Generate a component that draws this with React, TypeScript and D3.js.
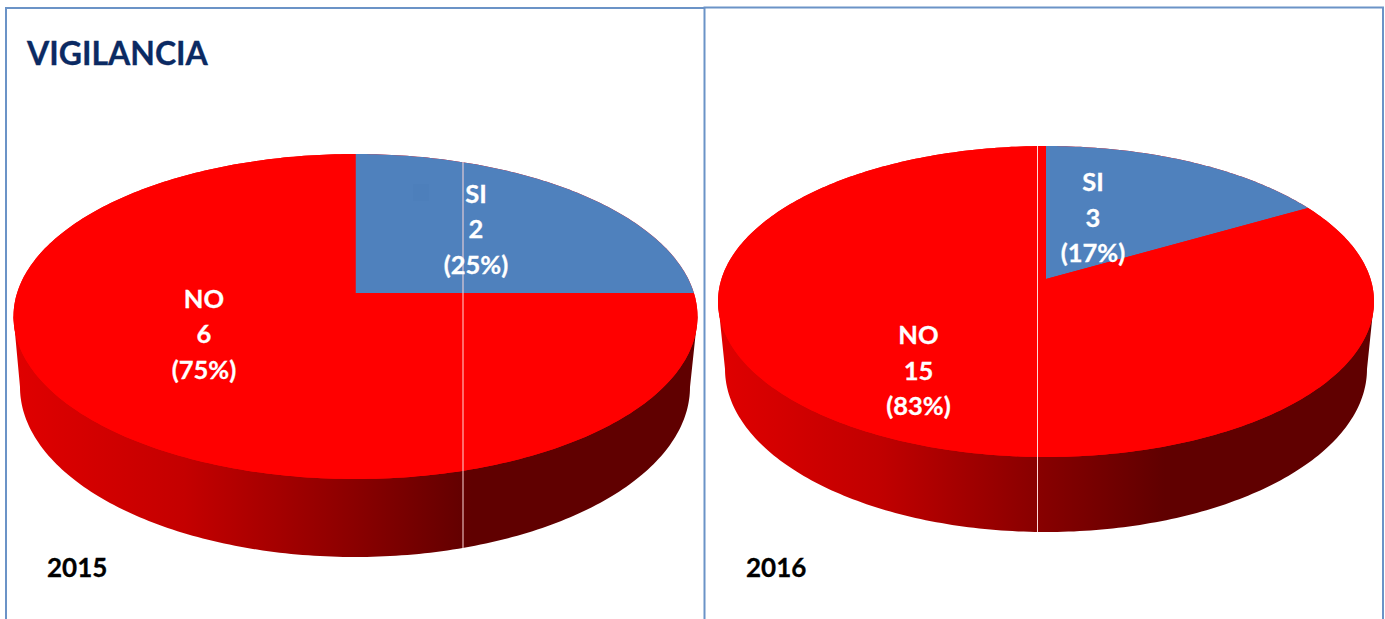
import React from "react";
import * as d3 from "d3";

const categories = ["SI", "NO"];
const years = ["2015", "2016"];
const values2015 = [2, 6];
const values2016 = [3, 15];
const percents2015 = ["(25%)", "(75%)"];
const percents2016 = ["(17%)", "(83%)"];
const colors = ["#4f81bd", "#ff0000"];
const FONT = "Lato, Carlito, 'Open Sans', sans-serif";
const FRAME = "#6b93c7";
const SLANT = 0.1446;

type Face = { cx: number; cy: number; rx: number; ry: number };

// Projective map of a unit disc onto a tilted ellipse, so slice angles follow the perspective.
function project(f: Face, angle: number): [number, number] {
  const u = Math.sin(angle);
  const v = Math.cos(angle);
  const k = 1 - SLANT * SLANT;
  const w = 1 + SLANT * v;
  const y0 = f.cy - f.ry * SLANT;
  return [f.cx + (f.rx * Math.sqrt(k) * u) / w, y0 - (f.ry * k * v) / w];
}

const lineGen = d3.line<[number, number]>().x((d) => d[0]).y((d) => d[1]);

function sliceThrough(f: Face, a0: number, a1: number, whole = false) {
  const n = Math.max(8, Math.ceil(((a1 - a0) / (2 * Math.PI)) * 360));
  const rim = d3.range(n + 1).map((i) => project(f, a0 + ((a1 - a0) * i) / n));
  const apex: [number, number] = [f.cx, f.cy - f.ry * SLANT];
  return lineGen(whole ? rim : [apex, ...rim]) + "Z";
}

function sidePath(top: Face, bottom: Face) {
  const n = 180;
  const arc = d3.range(n + 1).map((i): [number, number] => {
    const t = Math.PI - (Math.PI * i) / n;
    return [bottom.cx + bottom.rx * Math.cos(t), bottom.cy + bottom.ry * Math.sin(t)];
  });
  return lineGen([[top.cx - top.rx, top.cy], ...arc, [top.cx + top.rx, top.cy]]) + "Z";
}

function Pie3D(props: {
  id: string;
  values: number[];
  percents: string[];
  top: Face;
  bottom: Face;
  gradStops: [number, string][];
  seamX: number;
  seamTop: number;
  seamBottom: number;
  labelPos: [number, number][];
  lineGaps: number[];
}) {
  const { id, values, percents, top, bottom, gradStops, seamX, seamTop, seamBottom, labelPos, lineGaps } = props;
  const arcs = d3.pie<number>().sort(null)(values);
  const x = d3.scaleLinear().domain([top.cx - top.rx, top.cx + top.rx]).range([0, 1]);
  return (
    <g>
      <defs>
        <linearGradient id={id} gradientUnits="userSpaceOnUse" x1={x.invert(0)} x2={x.invert(1)} y1="0" y2="0">
          {gradStops.map(([o, c]) => (
            <stop key={o} offset={o} stopColor={c} />
          ))}
        </linearGradient>
      </defs>
      <path d={sidePath(top, bottom)} fill={`url(#${id})`} />
      <path d={sliceThrough(top, 0, 2 * Math.PI, true)} fill={colors[1]} />
      {arcs.map((a, i) => (
        <path key={i} d={sliceThrough(top, a.startAngle, a.endAngle)} fill={colors[i]} />
      ))}
      <line x1={seamX} x2={seamX} y1={seamTop} y2={seamBottom} stroke="#ffd8d8" strokeWidth={1} />
      {arcs.map((_, i) => (
        <text key={i} fontFamily={FONT} fontWeight={700} fontSize={25.5} fill="#fff" stroke="#fff" strokeWidth={0.3} textAnchor="middle">
          <tspan x={labelPos[i][0]} y={labelPos[i][1]}>{categories[i]}</tspan>
          <tspan x={labelPos[i][0]} y={labelPos[i][1] + lineGaps[0]}>{values[i]}</tspan>
          <tspan x={labelPos[i][0]} y={labelPos[i][1] + lineGaps[1]}>{percents[i]}</tspan>
        </text>
      ))}
    </g>
  );
}

export default function App() {
  return (
    <svg
      width={1385}
      height={619}
      viewBox="0 0 1385 619"
      style={{ position: "fixed", left: 0, top: 0, background: "#fff", display: "block" }}
    >
      <Pie3D
        id="side2015"
        values={values2015}
        percents={percents2015}
        top={{ cx: 355.5, cy: 316.5, rx: 342, ry: 162.5 }}
        bottom={{ cx: 355, cy: 387, rx: 335, ry: 170 }}
        gradStops={[[0, "#e00000"], [0.25, "#c40000"], [0.5, "#8a0000"], [0.67, "#600000"], [1, "#600000"]]}
        seamX={463}
        seamTop={162}
        seamBottom={548}
        labelPos={[[476, 203], [204, 308]]}
        lineGaps={[35, 71]}
      />
      <Pie3D
        id="side2016"
        values={values2016}
        percents={percents2016}
        top={{ cx: 1046, cy: 301.5, rx: 328, ry: 155.5 }}
        bottom={{ cx: 1046, cy: 369, rx: 321, ry: 163 }}
        gradStops={[[0, "#e00000"], [0.25, "#c00000"], [0.48, "#8a0000"], [0.68, "#600000"], [1, "#600000"]]}
        seamX={1037.5}
        seamTop={146}
        seamBottom={532}
        labelPos={[[1093, 191], [918.5, 344]]}
        lineGaps={[36, 71]}
      />
      <rect x={413} y={184} width={16} height={17} fill="#4d7fbb" />
      <path d="M6 619V8H704" fill="none" stroke={FRAME} strokeWidth={2} />
      <path d="M704.5 619V7.5H1383V619" fill="none" stroke={FRAME} strokeWidth={2} />
      <text x={27} y={65} fontFamily={FONT} fontWeight={700} fontSize={32} fill="#0b2a63" stroke="#0b2a63" strokeWidth={0.3}>VIGILANCIA</text>
      <text x={47} y={577} fontFamily={FONT} fontWeight={700} fontSize={26} fill="#000" stroke="#000" strokeWidth={0.3}>{years[0]}</text>
      <text x={746} y={577} fontFamily={FONT} fontWeight={700} fontSize={26} fill="#000" stroke="#000" strokeWidth={0.3}>{years[1]}</text>
    </svg>
  );
}
